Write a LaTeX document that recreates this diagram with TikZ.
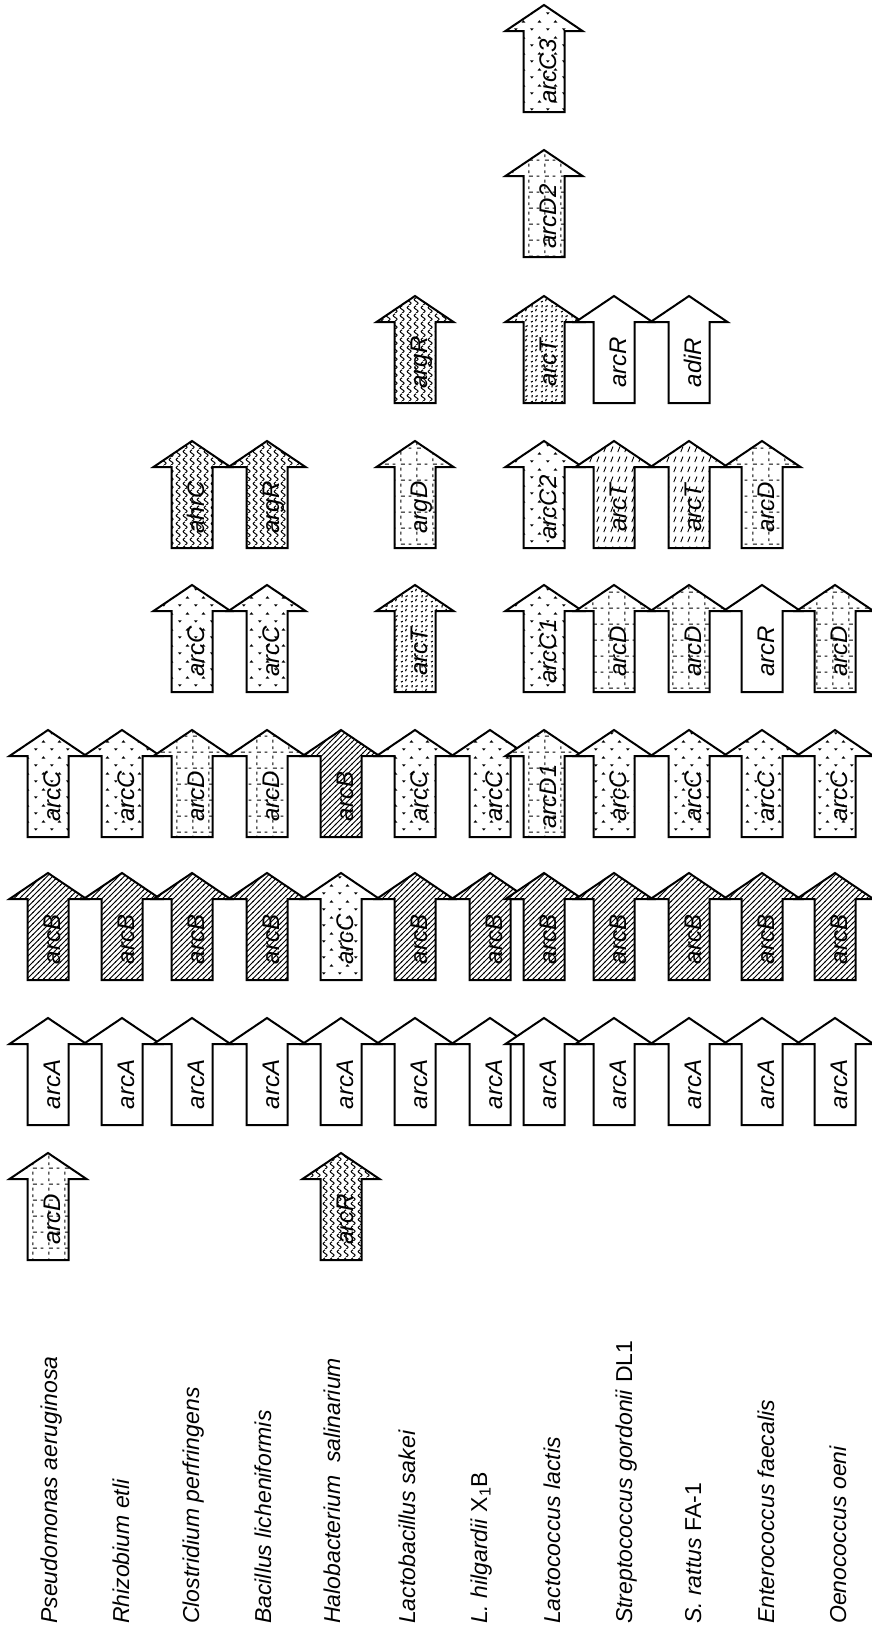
\documentclass[tikz,border=0pt]{standalone}
\usepackage{fontspec}
\setmainfont{Liberation Sans}
\usetikzlibrary{patterns}

\pgfdeclarepatternformonly{hatchB}{\pgfqpoint{-1pt}{-1pt}}{\pgfqpoint{7pt}{7pt}}{\pgfqpoint{5.5pt}{5.5pt}}{%
  \pgfsetlinewidth{1pt}%
  \pgfpathmoveto{\pgfqpoint{-0.5pt}{-0.5pt}}%
  \pgfpathlineto{\pgfqpoint{6pt}{6pt}}%
  \pgfusepath{stroke}}
\pgfdeclarepatternformonly{dotsC}{\pgfqpoint{0pt}{0pt}}{\pgfqpoint{16pt}{16pt}}{\pgfqpoint{16pt}{16pt}}{%
  \pgfpathmoveto{\pgfqpoint{2pt}{5pt}}%
  \pgfpathlineto{\pgfqpoint{6pt}{5pt}}%
  \pgfpathlineto{\pgfqpoint{4pt}{2.5pt}}%
  \pgfpathclose
  \pgfpathmoveto{\pgfqpoint{10pt}{11pt}}%
  \pgfpathlineto{\pgfqpoint{14pt}{11pt}}%
  \pgfpathlineto{\pgfqpoint{12pt}{13.5pt}}%
  \pgfpathclose
  \pgfusepath{fill}}
\pgfdeclarepatternformonly{gridD}{\pgfqpoint{0pt}{0pt}}{\pgfqpoint{16pt}{16pt}}{\pgfqpoint{16pt}{16pt}}{%
  \pgfsetlinewidth{1.1pt}%
  \pgfpathmoveto{\pgfqpoint{1pt}{1pt}}\pgfpathlineto{\pgfqpoint{5pt}{1pt}}%
  \pgfpathmoveto{\pgfqpoint{9pt}{1pt}}\pgfpathlineto{\pgfqpoint{12pt}{1pt}}%
  \pgfpathmoveto{\pgfqpoint{1pt}{4pt}}\pgfpathlineto{\pgfqpoint{1pt}{7pt}}%
  \pgfpathmoveto{\pgfqpoint{1pt}{11pt}}\pgfpathlineto{\pgfqpoint{1pt}{14pt}}%
  \pgfusepath{stroke}}
\pgfdeclarepatternformonly{wavyR}{\pgfqpoint{0pt}{0pt}}{\pgfqpoint{7pt}{8pt}}{\pgfqpoint{7pt}{8pt}}{%
  \pgfsetlinewidth{1.1pt}%
  \pgfpathmoveto{\pgfqpoint{3.5pt}{0pt}}%
  \pgfpathcurveto{\pgfqpoint{6.5pt}{2pt}}{\pgfqpoint{6.5pt}{2pt}}{\pgfqpoint{3.5pt}{4pt}}%
  \pgfpathcurveto{\pgfqpoint{0.5pt}{6pt}}{\pgfqpoint{0.5pt}{6pt}}{\pgfqpoint{3.5pt}{8pt}}%
  \pgfusepath{stroke}}
\pgfdeclarepatternformonly{speckT}{\pgfqpoint{0pt}{0pt}}{\pgfqpoint{10pt}{10pt}}{\pgfqpoint{10pt}{10pt}}{%
  \pgfsetlinewidth{1.2pt}%
  \pgfpathmoveto{\pgfqpoint{1pt}{1pt}}\pgfpathlineto{\pgfqpoint{3pt}{2pt}}%
  \pgfpathmoveto{\pgfqpoint{6pt}{2pt}}\pgfpathlineto{\pgfqpoint{7pt}{4.5pt}}%
  \pgfpathmoveto{\pgfqpoint{2pt}{6pt}}\pgfpathlineto{\pgfqpoint{2.5pt}{8.5pt}}%
  \pgfpathmoveto{\pgfqpoint{6pt}{7pt}}\pgfpathlineto{\pgfqpoint{8.5pt}{8pt}}%
  \pgfusepath{stroke}}
\pgfdeclarepatternformonly{dashT}{\pgfqpoint{0pt}{0pt}}{\pgfqpoint{7pt}{10pt}}{\pgfqpoint{7pt}{10pt}}{%
  \pgfsetlinewidth{1pt}%
  \pgfpathmoveto{\pgfqpoint{2pt}{1pt}}\pgfpathlineto{\pgfqpoint{4.5pt}{7pt}}%
  \pgfusepath{stroke}}

\newcommand\genefont{\fontsize{24}{24}\selectfont\itshape}
\newcommand\specfont{\fontsize{23}{23}\selectfont}

\tikzset{
  body/.style={draw=black,line width=2pt,line join=miter},
  pwhite/.style={body,fill=white},
  phatch/.style={body,preaction={fill=white},pattern=hatchB},
  pdots/.style={body,preaction={fill=white},pattern=dotsC},
  pgrid/.style={body,preaction={fill=white},pattern=gridD},
  pwavy/.style={body,preaction={fill=white},pattern=wavyR},
  pspeck/.style={body,preaction={fill=white},pattern=speckT},
  pdash/.style={body,preaction={fill=white},pattern=dashT},
  genelab/.style={rotate=90,anchor=base,inner sep=0pt,font=\genefont},
  spec/.style={rotate=90,anchor=base west,inner sep=0pt,font=\specfont},
}

% #1 centre x, #2 apex y, #3 style, #4 label, #5 name
\newcommand\garrow[5]{%
  \path[#3] ({#1-20.5},{#2+107}) -- ({#1-20.5},{#2+26}) -- ({#1-38.5},{#2+26})
    -- (#1,#2) -- ({#1+38.5},{#2+26}) -- ({#1+20.5},{#2+26})
    -- ({#1+20.5},{#2+107}) -- cycle;
  \node[genelab] (#5) at ({#1+12},{#2+66.5}) {#4};
}

\begin{document}
\begin{tikzpicture}[x=1pt,y=-1pt]
\useasboundingbox (0,0) rectangle (872,1633);

% row 8
\garrow{544}{5}{pdots}{arcC3}{r8c8}
% row 7
\garrow{544}{150}{pgrid}{arcD2}{r7c8}
% row 6
\garrow{415}{296}{pwavy}{argR}{r6c6}
\garrow{544}{296}{pspeck}{arcT}{r6c8}
\garrow{614}{296}{pwhite}{arcR}{r6c9}
\garrow{689}{296}{pwhite}{adiR}{r6c10}
% row 5
\garrow{192}{441}{pwavy}{ahrC}{r5c3}
\garrow{267}{441}{pwavy}{argR}{r5c4}
\garrow{415}{441}{pgrid}{argD}{r5c6}
\garrow{544}{441}{pdots}{arcC2}{r5c8}
\garrow{614}{441}{pdash}{arcT}{r5c9}
\garrow{689}{441}{pdash}{arcT}{r5c10}
\garrow{762}{441}{pgrid}{arcD}{r5c11}
% row 4
\garrow{192}{585}{pdots}{arcC}{r4c3}
\garrow{267}{585}{pdots}{arcC}{r4c4}
\garrow{415}{585}{pspeck}{arcT}{r4c6}
\garrow{544}{585}{pdots}{arcC1}{r4c8}
\garrow{614}{585}{pgrid}{arcD}{r4c9}
\garrow{689}{585}{pgrid}{arcD}{r4c10}
\garrow{762}{585}{pwhite}{arcR}{r4c11}
\garrow{835}{585}{pgrid}{arcD}{r4c12}
% row 3
\garrow{48}{730}{pdots}{arcC}{r3c1}
\garrow{122}{730}{pdots}{arcC}{r3c2}
\garrow{192}{730}{pgrid}{arcD}{r3c3}
\garrow{267}{730}{pgrid}{arcD}{r3c4}
\garrow{341}{730}{phatch}{arcB}{r3c5}
\garrow{415}{730}{pdots}{arcC}{r3c6}
\garrow{490}{730}{pdots}{arcC}{r3c7}
\garrow{544}{730}{pgrid}{arcD1}{r3c8}
\garrow{614}{730}{pdots}{arcC}{r3c9}
\garrow{689}{730}{pdots}{arcC}{r3c10}
\garrow{762}{730}{pdots}{arcC}{r3c11}
\garrow{835}{730}{pdots}{arcC}{r3c12}
% row 2
\garrow{48}{873}{phatch}{arcB}{r2c1}
\garrow{122}{873}{phatch}{arcB}{r2c2}
\garrow{192}{873}{phatch}{arcB}{r2c3}
\garrow{267}{873}{phatch}{arcB}{r2c4}
\garrow{341}{873}{pdots}{arcC}{r2c5}
\garrow{415}{873}{phatch}{arcB}{r2c6}
\garrow{490}{873}{phatch}{arcB}{r2c7}
\garrow{544}{873}{phatch}{arcB}{r2c8}
\garrow{614}{873}{phatch}{arcB}{r2c9}
\garrow{689}{873}{phatch}{arcB}{r2c10}
\garrow{762}{873}{phatch}{arcB}{r2c11}
\garrow{835}{873}{phatch}{arcB}{r2c12}
% row 1
\garrow{48}{1018}{pwhite}{arcA}{r1c1}
\garrow{122}{1018}{pwhite}{arcA}{r1c2}
\garrow{192}{1018}{pwhite}{arcA}{r1c3}
\garrow{267}{1018}{pwhite}{arcA}{r1c4}
\garrow{341}{1018}{pwhite}{arcA}{r1c5}
\garrow{415}{1018}{pwhite}{arcA}{r1c6}
\garrow{490}{1018}{pwhite}{arcA}{r1c7}
\garrow{544}{1018}{pwhite}{arcA}{r1c8}
\garrow{614}{1018}{pwhite}{arcA}{r1c9}
\garrow{689}{1018}{pwhite}{arcA}{r1c10}
\garrow{762}{1018}{pwhite}{arcA}{r1c11}
\garrow{835}{1018}{pwhite}{arcA}{r1c12}
% row 0
\garrow{48}{1153}{pgrid}{arcD}{r0c1}
\garrow{341}{1153}{pwavy}{arcR}{r0c5}

% species
\node[spec] (sp1) at (57,1624) {\textit{Pseudomonas aeruginosa}};
\node[spec] (sp2) at (129,1624) {\textit{Rhizobium etli}};
\node[spec] (sp3) at (199,1624) {\textit{Clostridium perfringens}};
\node[spec] (sp4) at (271,1624) {\textit{Bacillus licheniformis}};
\node[spec] (sp5) at (340,1624) {\textit{Halobacterium~~salinarium}};
\node[spec] (sp6) at (415,1624) {\textit{Lactobacillus sakei}};
\node[spec] (sp7) at (487,1624) {\textit{L. hilgardii} X\textsubscript{1}B};
\node[spec] (sp8) at (560,1624) {\textit{Lactococcus lactis}};
\node[spec] (sp9) at (632,1624) {\textit{Streptococcus gordonii} DL1};
\node[spec] (sp10) at (701,1624) {\textit{S. rattus} FA-1};
\node[spec] (sp11) at (774,1624) {\textit{Enterococcus faecalis}};
\node[spec] (sp12) at (846,1624) {\textit{Oenococcus oeni}};
\end{tikzpicture}
\end{document}
